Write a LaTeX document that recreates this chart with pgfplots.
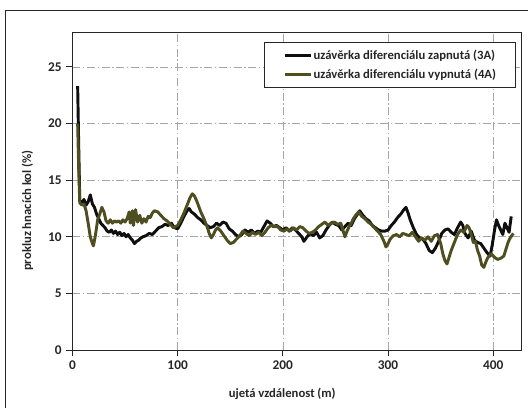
\documentclass[border=0pt]{standalone}
\usepackage{pgfplots}
\pgfplotsset{compat=1.18}
\usepackage{fontspec}
\setmainfont{Carlito}
\definecolor{olivefa}{RGB}{78,78,32}
\definecolor{blackza}{RGB}{15,15,15}
\pgfplotstableread{
x y
5 23.3
6 18
7 13.2
9 13.0
11 13.3
13 12.8
15 13.1
17 13.7
19 12.9
21 12.6
23 12.0
25 11.6
27 11.2
29 11.0
31 10.8
33 10.5
35 10.4
37 10.6
39 10.3
41 10.5
43 10.2
45 10.4
47 10.1
49 10.3
51 10.0
53 10.2
55 9.9
57 9.7
59 9.4
61 9.6
63 9.7
65 9.9
67 10.0
70 10.1
73 10.3
76 10.2
79 10.5
82 10.8
85 10.9
88 11.1
91 11.0
94 11.2
97 10.8
100 10.7
103 11.2
106 11.8
109 12.3
111 12.5
113 12.2
116 12.0
119 11.7
122 11.5
125 11.2
128 11.0
131 10.8
134 10.9
137 11.2
140 11.0
143 11.3
146 11.2
149 10.7
152 10.5
155 10.2
158 10.0
161 10.2
164 10.6
167 10.4
170 10.6
173 10.3
176 10.5
179 10.4
182 10.9
185 11.4
188 11.2
191 10.9
194 11.0
197 10.8
200 10.6
203 10.8
206 10.5
209 10.8
212 10.6
215 10.3
218 10.0
220 9.6
223 10.0
226 10.3
229 10.1
232 10.4
235 9.9
238 10.1
241 10.6
244 11.0
247 11.3
250 11.1
253 11.0
256 10.6
259 10.9
262 11.2
265 11.0
268 11.6
271 12.0
273 12.3
276 11.9
279 11.6
282 11.4
285 11.0
288 10.8
291 10.6
294 10.5
297 10.5
300 10.6
303 11.0
306 11.3
309 11.7
312 12.0
315 12.4
317 12.6
319 12.1
321 11.5
324 10.8
327 10.2
330 9.9
333 9.8
336 9.4
339 8.8
342 8.6
345 9.0
348 9.6
351 10.3
354 10.6
357 10.7
360 10.4
363 10.2
366 10.8
369 11.3
371 11.0
373 10.3
376 9.9
379 10.5
382 9.7
385 9.5
388 9.4
391 9.0
394 8.6
397 8.3
399 9.3
401 10.5
403 11.5
405 11.0
407 10.6
409 10.2
411 11.2
413 10.8
415 10.4
417 11.8
}\seriesA
\pgfplotstableread{
x y
5 20.0
6 16
7 13.0
9 12.8
11 12.9
13 12.3
15 11.2
17 10.0
19 9.4
20 9.2
22 10.2
24 11.5
26 12.0
28 12.6
30 12.2
32 11.4
34 11.2
36 11.5
38 11.2
40 11.4
42 11.3
44 11.4
46 11.2
48 11.5
50 11.3
52 11.6
54 12.2
55 11.2
57 12.3
58 11.0
60 12.4
62 11.3
64 11.9
66 11.2
68 11.6
70 11.3
72 11.8
74 11.7
76 12.1
78 12.3
81 12.2
84 11.9
87 11.6
90 11.4
93 11.1
96 10.8
98 10.9
100 11.0
103 11.5
106 12.1
109 12.8
112 13.5
114 13.8
116 13.6
118 13.2
120 12.7
122 12.2
125 11.6
128 10.9
130 10.3
132 9.9
134 10.2
136 10.6
138 10.8
141 10.5
144 10.1
147 9.7
150 9.4
153 9.5
156 9.8
159 10.1
162 10.5
165 10.3
168 10.1
171 10.4
174 10.2
177 10.4
180 10.1
183 10.4
186 10.8
189 11.0
192 10.9
195 10.9
198 10.6
201 10.5
204 10.7
207 10.5
210 10.8
213 10.6
216 10.9
219 10.8
222 10.5
225 10.3
228 10.4
231 10.6
234 10.9
237 11.1
240 11.3
243 11.0
246 11.2
249 11.3
252 11.1
255 11.2
257 10.6
259 10.0
261 10.5
263 10.9
265 11.2
267 11.6
270 12.0
272 12.2
275 11.8
278 11.6
281 11.3
284 11.1
287 10.8
290 10.5
293 10.2
296 9.6
298 9.1
300 9.4
302 9.8
305 10.1
308 10.2
311 10.0
314 10.3
317 10.2
320 10.1
323 10.4
326 10.0
329 9.6
332 9.9
335 9.7
338 10.0
341 9.6
344 10.1
347 10.2
350 9.4
352 8.5
354 7.9
356 7.6
358 8.2
360 8.8
363 9.5
366 10.2
369 10.6
372 10.4
375 11.0
377 10.8
379 10.2
381 9.5
383 9.6
385 8.8
387 8.3
389 7.5
391 7.3
393 7.8
395 8.2
398 8.5
401 8.2
404 8.0
407 8.1
410 8.3
412 8.9
414 9.5
416 9.9
419 10.3
}\seriesB
\begin{document}
\begin{tikzpicture}[x=0.75pt,y=0.75pt]
\useasboundingbox (-72.4,-57) rectangle (455.6,350);
\draw[line width=0.75pt, black!85] (-67,-70) -- (-67,339) -- (470,339);
\begin{axis}[
  at={(0,0)}, anchor=south west,
  scale only axis, width=337pt, height=237.75pt,
  xmin=0, xmax=427, ymin=0, ymax=28,
  xtick={0,100,200,300,400}, ytick={0,5,10,15,20,25},
  tick pos=left, tick align=outside,
  major tick length=4.5pt,
  every tick/.style={black!85, line width=0.75pt},
  axis line style={black!85, line width=0.75pt},
  grid=major,
  major grid style={gray!70, line width=0.5pt, dash pattern=on 6pt off 2pt on 1pt off 2pt},
  /pgf/number format/assume math mode=true,
  ticklabel style={font=\bfseries\fontsize{10}{12}\selectfont, text=black!85},
  xlabel={ujetá vzdálenost (m)},
  ylabel={prokluz hnacích kol (\%)},
  label style={font=\bfseries\fontsize{9.5}{11}\selectfont, text=black!85},
  xlabel style={at={(axis description cs:0.467,-0.139)}, anchor=center},
  ylabel style={at={(axis description cs:-0.10,0.44)}, anchor=center},
  legend style={at={(axis description cs:0.987,0.972)}, anchor=north east,
    draw=black!85, line width=0.75pt, inner xsep=14pt, inner ysep=4pt,
    font=\bfseries\fontsize{9.5}{11}\selectfont, text=black!85,
    row sep=3pt, nodes={inner xsep=0.5pt, inner ysep=1.5pt}},
  legend cell align=left,
  legend image code/.code={\draw[#1, line width=2.2pt] (0pt,0pt) -- (20pt,0pt);},
]
\addplot[blackza, line width=2.2pt, line join=round] table[x=x,y=y] {\seriesA};
\addlegendentry{uzávěrka diferenciálu zapnutá (3A)}
\addplot[olivefa, line width=2.2pt, line join=round] table[x=x,y=y] {\seriesB};
\addlegendentry{uzávěrka diferenciálu vypnutá (4A)}
\end{axis}
\end{tikzpicture}
\end{document}
